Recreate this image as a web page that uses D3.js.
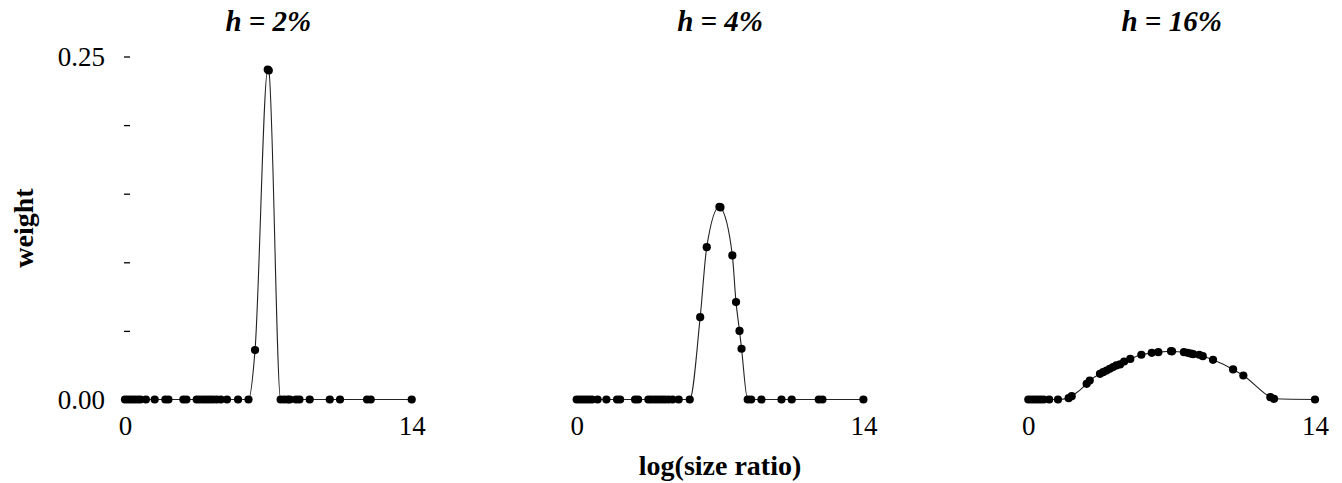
<!DOCTYPE html>
<html>
<head>
<meta charset="utf-8">
<script src="https://cdn.jsdelivr.net/npm/d3@7"></script>
<style>
  body { margin: 0; background: #fff; }
  text { font-family: "Liberation Serif", "Times New Roman", serif; fill: #000; }
</style>
</head>
<body>
<div id="grafico"></div>
<script>
// 1) dados ----------------------------------------------------------
const razaoLog = [0.0, 0.15, 0.3, 0.45, 0.6, 0.75, 1.02, 1.45, 1.97, 2.12,
  2.85, 3.0, 3.5, 3.65, 3.82, 3.98, 4.14, 4.3, 4.48, 4.68,
  4.98, 5.52, 6.03, 6.35, 6.97, 7.02, 7.6, 7.78, 7.95, 8.05,
  8.35, 8.52, 9.02, 10.0, 10.5, 11.82, 12.0, 14.0];

const pesoH2 = [0, 0, 0, 0, 0, 0, 0, 0, 0, 0,
  0, 0, 0, 0, 0, 0, 0, 0, 0, 0,
  0, 0, 0, 0.036, 0.2405, 0.2398, 0, 0, 0, 0,
  0, 0, 0, 0, 0, 0, 0, 0];

const pesoH4 = [0, 0, 0, 0, 0, 0, 0, 0, 0, 0,
  0, 0, 0, 0, 0, 0, 0, 0, 0, 0,
  0, 0, 0.060, 0.111, 0.1405, 0.1400, 0.105, 0.071, 0.050, 0.037,
  0, 0, 0, 0, 0, 0, 0, 0];

const pesoH16 = [0, 0, 0, 0, 0, 0, 0, 0, 0.001, 0.0024,
  0.0114, 0.0138, 0.0187, 0.0199, 0.0211, 0.0224, 0.0236, 0.0248, 0.0256, 0.0277,
  0.0296, 0.0326, 0.034, 0.0345, 0.0352, 0.0351, 0.0345, 0.034, 0.0334, 0.033,
  0.0326, 0.0316, 0.0289, 0.0219, 0.0175, 0.0017, 0.0005, 0];

const titulos = ["h = 2%", "h = 4%", "h = 16%"];
const ticksX = [0, 14];
const ticksY = [0, 0.05, 0.10, 0.15, 0.20, 0.25];
const rotulosY = [0, 0.25];

const paineis = [pesoH2, pesoH4, pesoH16].map((pesos, i) => ({
  titulo: titulos[i],
  pontos: razaoLog.map((x, j) => ({ x: x, y: pesos[j] }))
}));

// 2) medidas ---------------------------------------------------------
const larguraTotal = 1342, alturaTotal = 483;
const inicioPaineis = [125, 576.7, 1028.3];
const larguraPainel = 286.7;
const topo = 56.5, base = 399.5;

// 3) svg -------------------------------------------------------------
const svg = d3.select("#grafico")
  .append("svg")
    .attr("width", larguraTotal)
    .attr("height", alturaTotal);

const x = d3.scaleLinear().domain([0, 14]).range([0, larguraPainel]);
const y = d3.scaleLinear().domain([0, 0.25]).range([base, topo]);

const linha = d3.line()
  .x(d => x(d.x))
  .y(d => y(d.y))
  .curve(d3.curveMonotoneX);

// 4) cada painel -----------------------------------------------------
paineis.forEach((p, i) => {
  const g = svg.append("g")
    .attr("transform", `translate(${inicioPaineis[i]},0)`);

  // titulo
  g.append("text")
    .attr("x", larguraPainel / 2)
    .attr("y", 31)
    .attr("text-anchor", "middle")
    .attr("font-size", "29px")
    .attr("font-weight", "bold")
    .attr("font-style", "italic")
    .text(p.titulo);

  // eixo x
  g.append("g")
    .attr("transform", `translate(0,${base})`)
    .call(d3.axisBottom(x).tickValues(ticksX).tickSize(0).tickPadding(16).tickFormat(d3.format("d")))
    .call(a => a.select(".domain").remove())
    .selectAll("text")
      .attr("font-size", "27px")
      .style("font-family", "'Liberation Serif', serif");

  // linha
  g.append("path")
    .datum(p.pontos)
    .attr("fill", "none")
    .attr("stroke", "#222")
    .attr("stroke-width", 1.1)
    .attr("d", linha);

  // pontos
  g.append("g")
    .selectAll("circle")
    .data(p.pontos)
    .join("circle")
      .attr("cx", d => x(d.x))
      .attr("cy", d => y(d.y))
      .attr("r", 4.1)
      .attr("fill", "#000");
});

// 5) eixo y (so no primeiro painel) ---------------------------------
svg.append("g")
  .attr("transform", `translate(${inicioPaineis[0] + 5},0)`)
  .call(d3.axisLeft(y).tickValues(ticksY).tickSize(6).tickPadding(19)
    .tickFormat(d => rotulosY.includes(d) ? d3.format(".2f")(d) : ""))
  .call(a => a.select(".domain").remove())
  .call(a => a.selectAll("line").attr("stroke", "#000").attr("stroke-width", 1.3))
  .selectAll("text")
    .attr("font-size", "27px")
    .style("font-family", "'Liberation Serif', serif");

// 6) rotulos dos eixos ----------------------------------------------
svg.append("text")
  .attr("x", inicioPaineis[1] + larguraPainel / 2)
  .attr("y", 475)
  .attr("text-anchor", "middle")
  .attr("font-size", "28px")
  .attr("font-weight", "bold")
  .text("log(size ratio)");

svg.append("text")
  .attr("transform", `translate(33,${(topo + base) / 2}) rotate(-90)`)
  .attr("text-anchor", "middle")
  .attr("font-size", "28px")
  .attr("font-weight", "bold")
  .text("weight");
</script>
</body>
</html>
